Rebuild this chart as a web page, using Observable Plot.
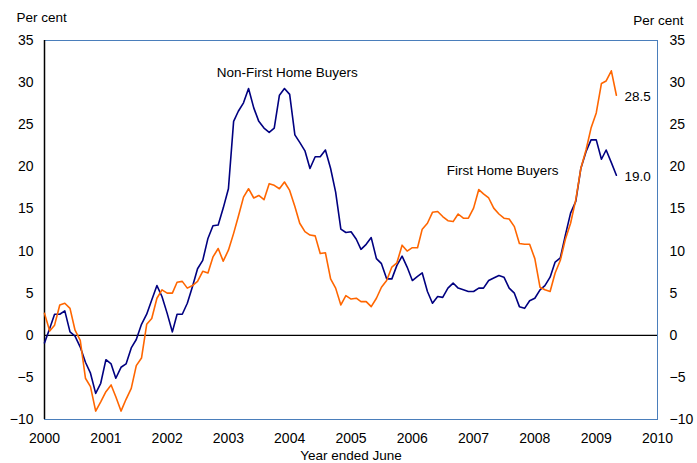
<!DOCTYPE html>
<html>
<head>
<meta charset="utf-8">
<script src="https://cdn.jsdelivr.net/npm/d3@7"></script>
<script src="https://cdn.jsdelivr.net/npm/@observablehq/plot@0.6"></script>
<style>
  html, body { margin: 0; padding: 0; background: #fff; }
  #chart { width: 697px; height: 463px; }
</style>
</head>
<body>
<div id="chart"></div>
<script>
// Monthly observations, January 2000 to May 2009 (per cent)
const nonFirstHomeBuyers = [
  -0.9, 0.8, 2.5, 2.5, 2.9, 0.4, -0.1, -1.4, -3.2, -4.5, -6.9, -5.7,
  -2.9, -3.4, -5.1, -3.8, -3.4, -1.5, -0.5, 1.3, 2.5, 4.2, 5.9, 4.6,
  2.6, 0.4, 2.5, 2.5, 3.8, 5.8, 7.9, 8.9, 11.5, 13.0, 13.1, 15.1,
  17.4, 25.4, 26.6, 27.6, 29.3, 27.0, 25.4, 24.6, 24.1, 24.6, 28.5, 29.3,
  28.6, 23.8, 22.9, 21.9, 19.8, 21.2, 21.2, 22.0, 19.8, 17.0, 12.6, 12.2,
  12.3, 11.4, 10.2, 10.8, 11.6, 9.1, 8.5, 6.7, 6.7, 8.3, 9.4, 8.1,
  6.5, 7.0, 7.4, 5.2, 3.8, 4.6, 4.5, 5.6, 6.2, 5.6, 5.4, 5.2,
  5.2, 5.6, 5.6, 6.5, 6.8, 7.1, 6.9, 5.6, 5.0, 3.4, 3.2, 4.1,
  4.4, 5.4, 5.9, 6.9, 8.7, 9.2, 11.9, 14.5, 15.9, 19.8, 21.8, 23.2,
  23.2, 20.9, 22.0, 20.5, 19.0
];
const firstHomeBuyers = [
  2.6, 0.5, 1.2, 3.6, 3.8, 3.2, 0.6, -0.6, -5.1, -6.1, -9.0, -7.9,
  -6.7, -5.9, -7.3, -9.0, -7.6, -6.3, -3.6, -2.7, 1.3, 2.0, 4.4, 5.4,
  5.0, 5.0, 6.3, 6.4, 5.6, 5.9, 6.4, 7.6, 7.4, 9.3, 10.3, 8.8,
  10.1, 12.1, 14.1, 16.4, 17.4, 16.3, 16.6, 16.1, 18.0, 17.8, 17.4, 18.2,
  17.2, 15.3, 13.3, 12.3, 11.9, 11.8, 9.7, 9.8, 6.7, 5.6, 3.6, 4.7,
  4.3, 4.4, 4.0, 4.0, 3.4, 4.4, 5.7, 6.5, 8.1, 8.6, 10.7, 10.0,
  10.4, 10.4, 12.6, 13.3, 14.6, 14.7, 14.1, 13.6, 13.5, 14.4, 13.9, 13.9,
  15.1, 17.3, 16.8, 16.3, 15.1, 14.4, 13.9, 13.8, 12.9, 10.9, 10.8, 10.8,
  9.1, 5.7, 5.4, 5.2, 7.4, 8.9, 11.4, 13.3, 16.1, 19.8, 22.0, 24.6,
  26.4, 29.9, 30.2, 31.4, 28.5
];
const startYear = 2000;
const yTicks = [-10, -5, 0, 5, 10, 15, 20, 25, 30, 35];
const xTickYears = [2000, 2001, 2002, 2003, 2004, 2005, 2006, 2007, 2008, 2009, 2010];
const seriesNames = ["Non-First Home Buyers", "First Home Buyers"];
const seriesColors = ["#000080", "#ff6600"];
const labelYears = [2002.81, 2006.56];
const labelValues = [31.15, 19.6];
const yLabel = "Per cent";
const xLabel = "Year ended June";

const months = nonFirstHomeBuyers.map((_, i) => new Date(Date.UTC(startYear, i, 1)));
const yearDate = (y) => new Date(Date.UTC(Math.floor(y), 0, 1) + (y - Math.floor(y)) * 365.25 * 864e5);
const xTicks = xTickYears.map(y => new Date(Date.UTC(y, 0, 1)));

const rows = [];
[nonFirstHomeBuyers, firstHomeBuyers].forEach((vals, s) => {
  vals.forEach((v, i) => rows.push({ date: months[i], value: v, series: seriesNames[s] }));
});
const lastPoints = [nonFirstHomeBuyers, firstHomeBuyers].map((vals, s) => ({
  date: months[vals.length - 1], value: vals[vals.length - 1], series: seriesNames[s]
}));
const seriesLabels = seriesNames.map((n, i) => ({ text: n, date: yearDate(labelYears[i]), value: labelValues[i] }));

const chart = Plot.plot({
  width: 697,
  height: 463,
  marginLeft: 44,
  marginRight: 40,
  marginTop: 40,
  marginBottom: 44,
  style: { fontFamily: "'Liberation Sans', Arial, sans-serif", fontSize: "13.5px", color: "#000", background: "#fff", overflow: "visible" },
  x: { type: "utc", domain: [xTicks[0], xTicks[xTicks.length - 1]] },
  y: { domain: [yTicks[0], yTicks[yTicks.length - 1]] },
  color: { domain: seriesNames, range: seriesColors },
  marks: [
    Plot.frame({ stroke: "#4a7ebb", strokeWidth: 1 }),
    Plot.ruleY([0], { stroke: "#000", strokeWidth: 1.2 }),
    Plot.ruleX([xTicks[0]], { stroke: "#000", strokeWidth: 1.5 }),
    Plot.axisY({ anchor: "left", ticks: yTicks, tickSize: 0, tickPadding: 11, label: null, fontSize: 14 }),
    Plot.axisY({ anchor: "right", ticks: yTicks, tickSize: 0, tickPadding: 12, label: null, fontSize: 14 }),
    Plot.axisX({ anchor: "bottom", ticks: xTicks, tickSize: 0, tickPadding: 14, tickFormat: "%Y", label: null, fontSize: 14 }),
    Plot.line(rows, { x: "date", y: "value", z: "series", stroke: "series", strokeWidth: 1.6, curve: "linear" }),
    Plot.text(lastPoints, { x: "date", y: "value", text: d => d.value.toFixed(1), dx: 8, dy: 1, textAnchor: "start", fill: "#000" }),
    Plot.text(seriesLabels, { x: "date", y: "value", text: "text", textAnchor: "start", fill: "#000" }),
    Plot.text([yLabel], { frameAnchor: "top-left", dx: -28, dy: -23, textAnchor: "start", lineAnchor: "middle", fill: "#000" }),
    Plot.text([yLabel], { frameAnchor: "top-right", dx: 26, dy: -20, textAnchor: "end", lineAnchor: "middle", fill: "#000" }),
    Plot.text([xLabel], { frameAnchor: "bottom", dy: 36, lineAnchor: "middle", fill: "#000" })
  ]
});
document.getElementById("chart").appendChild(chart);
</script>
</body>
</html>
